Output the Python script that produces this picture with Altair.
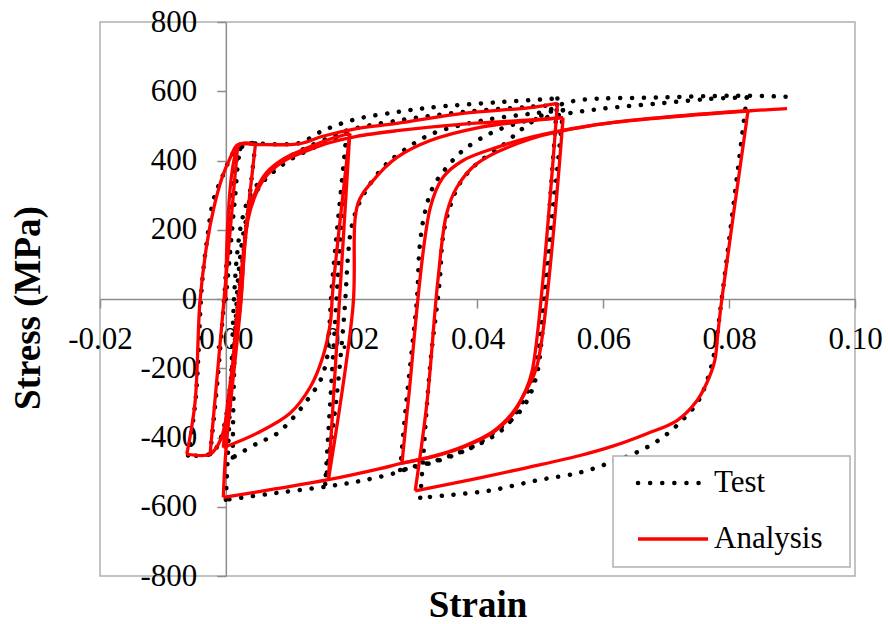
import altair as alt
import pandas as pd

# ---------------- data (strain, stress in MPa) ----------------
X_TICKS = [-0.02, 0.0, 0.02, 0.04, 0.06, 0.08, 0.10]
Y_TICKS = [-800, -600, -400, -200, 0, 200, 400, 600, 800]
SERIES = ["Test", "Analysis"]

# Analysis (red) branches
A1 = [(0, 0), (0.0022, 446), (0.0047, 446)]
A2 = [(0.0047, 446), (0.0020, 0), (0.0005, -290), (-0.0008, -405), (-0.0025, -448), (-0.0062, -448)]
A3 = [(-0.0062, -448), (-0.0049, -300), (-0.0041, -5), (-0.0030, 160), (-0.0019, 264), (-0.0006, 350),
      (0.0007, 408), (0.0019, 446), (0.0047, 446), (0.0118, 449), (0.0154, 470), (0.0208, 492),
      (0.0272, 507), (0.0377, 536), (0.0484, 553), (0.0527, 565)]
A4 = [(-0.0025, -448), (-0.0004, -25), (0.0019, 446)]
A5 = [(0.0527, 565), (0.0487, -207), (0.0475, -270), (0.0455, -335), (0.0425, -385), (0.0377, -428),
      (0.0330, -455), (0.0280, -474), (0.0245, -490), (0.0163, -522), (0.0080, -548), (-0.0004, -573)]
A6 = [(-0.0004, -573), (0.0000, -440), (0.0023, -30), (0.0035, 228), (0.0049, 308), (0.0065, 357),
      (0.0091, 397), (0.0129, 428), (0.0166, 452), (0.0208, 470), (0.0272, 486), (0.0377, 505),
      (0.0484, 517), (0.0536, 524)]
A7 = [(-0.0004, -429), (0.0003, -300), (0.0023, -20), (0.0035, 240), (0.0049, 318), (0.0065, 366),
      (0.0091, 404), (0.0129, 436), (0.0166, 462), (0.0197, 478)]
A8 = [(0.0197, 478), (0.0170, 25), (0.0166, -70), (0.0154, -168), (0.0134, -255), (0.0102, -330),
      (0.0049, -388), (-0.0004, -429)]
A9 = [(0.0197, 478), (0.0163, -522)]
A10 = [(0.0163, -522), (0.0202, -25), (0.0210, 276), (0.0234, 342), (0.0272, 409), (0.0325, 458),
       (0.0404, 496), (0.0470, 512), (0.0536, 524)]
A11 = [(0.0536, 524), (0.0495, -190), (0.0478, -262), (0.0455, -330), (0.0425, -382), (0.0377, -426),
       (0.0330, -454), (0.0280, -474)]
A12 = [(0.0280, -474), (0.0290, -294), (0.0325, 264), (0.0345, 351), (0.0377, 400), (0.0431, 438),
       (0.0484, 467), (0.0579, 501), (0.0690, 524), (0.0830, 544)]
A13 = [(0.0830, 544), (0.0788, -5), (0.0782, -100), (0.0777, -179), (0.0766, -236), (0.0749, -293),
       (0.0717, -351), (0.0669, -389), (0.0615, -425), (0.0563, -452), (0.0484, -485), (0.0400, -518),
       (0.0301, -554)]
A14 = [(0.0301, -554), (0.0320, -294), (0.0337, 53), (0.0351, 247), (0.0367, 322), (0.0399, 391),
       (0.0484, 462), (0.0579, 500), (0.0690, 523), (0.0830, 543), (0.0892, 550)]
ANALYSIS = [A1, A2, A3, A4, A5, A6, A7, A8, A9, A10, A11, A12, A13, A14]

# Test (black dotted) branches
T1 = [(0, 0), (0.0006, 120), (0.0015, 300), (0.0022, 420), (0.0030, 449), (0.0047, 449)]
T2 = [(0.0047, 449), (0.0032, 200), (0.0020, 0), (0.0010, -200), (-0.0003, -370), (-0.0015, -430),
      (-0.0025, -448), (-0.0060, -452)]
T3 = [(-0.0060, -452), (-0.0048, -290), (-0.0038, 40), (-0.0030, 169), (-0.0020, 284), (-0.0006, 351),
      (0.0011, 420), (0.0026, 449), (0.0047, 449), (0.0118, 451), (0.0145, 478), (0.0166, 495),
      (0.0208, 520), (0.0272, 540), (0.0325, 553), (0.0431, 568), (0.0527, 579)]
T4 = [(-0.0025, -448), (-0.0014, -250), (-0.0004, -30), (0.0005, 200), (0.0014, 380), (0.0026, 449)]
T5 = [(0.0527, 579), (0.0510, 150), (0.0499, -120), (0.0488, -230), (0.0466, -315), (0.0441, -375),
      (0.0404, -418), (0.0367, -446), (0.0325, -472), (0.0293, -487), (0.0272, -501), (0.0218, -524),
      (0.0166, -540), (0.0080, -560), (0.0000, -580)]
T6 = [(0.0000, -580), (0.0003, -460), (0.0009, -200), (0.0013, 0), (0.0018, 130), (0.0026, 230),
      (0.0040, 305), (0.0060, 350), (0.0081, 385), (0.0102, 412), (0.0129, 438), (0.0166, 467),
      (0.0193, 487), (0.0272, 515), (0.0377, 540), (0.0484, 555), (0.0536, 562)]
T7 = [(0.0011, -458), (0.0012, -300), (0.0016, -50), (0.0021, 90), (0.0030, 210), (0.0043, 290),
      (0.0060, 340), (0.0081, 375), (0.0102, 402), (0.0129, 428), (0.0166, 458), (0.0192, 478)]
T8 = [(0.0192, 478), (0.0168, 25), (0.0165, -70), (0.0161, -168), (0.0150, -236), (0.0129, -293),
      (0.0107, -343), (0.0081, -389), (0.0049, -418), (0.0011, -458)]
T9 = [(0.0192, 478), (0.0158, -534)]
T10 = [(0.0158, -534), (0.0175, -300), (0.0189, -25), (0.0194, 120), (0.0199, 200), (0.0209, 264),
       (0.0225, 320), (0.0250, 380), (0.0272, 415), (0.0325, 475), (0.0404, 514), (0.0484, 535),
       (0.0536, 545)]
T11 = [(0.0536, 545), (0.0515, 150), (0.0503, -100), (0.0494, -220), (0.0480, -290), (0.0460, -340),
       (0.0436, -372), (0.0399, -420), (0.0367, -448), (0.0325, -474), (0.0293, -489), (0.0277, -494)]
T12 = [(0.0277, -494), (0.0285, -332), (0.0296, -141), (0.0304, 5), (0.0308, 149), (0.0316, 247),
       (0.0329, 322), (0.0351, 380), (0.0377, 429), (0.0420, 478), (0.0468, 510), (0.0510, 525),
       (0.0550, 538), (0.0600, 550), (0.0690, 565), (0.0770, 578), (0.0828, 582)]
T13 = [(0.0828, 582), (0.0786, -30), (0.0777, -150), (0.0765, -235), (0.0749, -300), (0.0717, -365),
       (0.0687, -409), (0.0653, -443), (0.0615, -470), (0.0563, -501), (0.0494, -524), (0.0420, -553),
       (0.0345, -568), (0.0309, -574)]
T14 = [(0.0309, -574), (0.0313, -476), (0.0325, -187), (0.0340, 53), (0.0345, 178), (0.0356, 265),
       (0.0372, 334), (0.0399, 391), (0.0436, 438), (0.0470, 490), (0.0500, 528), (0.0530, 560),
       (0.0560, 574), (0.0600, 579), (0.0690, 582), (0.0770, 586), (0.0830, 587), (0.0892, 584)]
TEST = [T1, T2, T3, T4, T5, T6, T7, T8, T9, T10, T11, T12, T13, T14]

rows = []
for name, branches in (("Test", TEST), ("Analysis", ANALYSIS)):
    for b, pts in enumerate(branches):
        for i, (sx, sy) in enumerate(pts):
            rows.append({"series": name, "branch": f"{name}-{b}", "idx": i,
                         "strain": sx, "stress": sy})
df = pd.DataFrame(rows)

# ---------------- layout ----------------
W, H = 755, 554
FONT = "Liberation Serif"
X0 = W * 0.02 / 0.12          # pixel position of strain = 0
Y0 = H / 2                    # pixel position of stress = 0

x_scale = alt.Scale(domain=[-0.02, 0.10], nice=False, zero=False)
y_scale = alt.Scale(domain=[-800, 800], nice=False, zero=False)

x_axis = alt.Axis(
    values=X_TICKS, offset=-Y0, tickSize=9, labelPadding=16,
    labelFlush=False, labelOverlap=False,
    labelExpr="datum.value < 0 ? '-' + format(abs(datum.value), '.2f') : format(datum.value, '.2f')",
    title="Strain", titleX=W / 2, titleY=H - Y0 + 40, titleAlign="center",
    titleBaseline="alphabetic", titleFontSize=37, titleFontWeight="bold", titleFont=FONT,
    titleColor="black",
)
y_axis = alt.Axis(
    values=Y_TICKS, offset=-X0, tickSize=9, labelPadding=20,
    labelFlush=False, labelOverlap=False,
    labelExpr="datum.value < 0 ? '-' + abs(datum.value) : '' + datum.value",
    title="Stress (MPa)", titleAngle=270, titleX=39 - 100 - X0, titleY=285.5,
    titleAlign="center", titleBaseline="alphabetic", titleFontSize=37,
    titleFontWeight="bold", titleFont=FONT, titleColor="black",
)

base = alt.Chart(df)

test = base.transform_filter(alt.datum.series == "Test").mark_line(
    color="black", strokeWidth=4.5, strokeCap="round", strokeJoin="round",
    strokeDash=[0.1, 11.7], interpolate="catmull-rom",
).encode(
    x=alt.X("strain:Q", scale=x_scale, axis=x_axis),
    y=alt.Y("stress:Q", scale=y_scale, axis=y_axis),
    detail="branch:N",
    order="idx:Q",
)

analysis = base.transform_filter(alt.datum.series == "Analysis").mark_line(
    color="#ff0000", strokeWidth=3.3, strokeJoin="round", interpolate="catmull-rom",
).encode(
    x=alt.X("strain:Q", scale=x_scale),
    y=alt.Y("stress:Q", scale=y_scale),
    detail="branch:N",
    order="idx:Q",
)

# ---------------- legend ----------------
LX, LY, LW, LH = 513, 434, 237, 111
leg_box = alt.Chart(pd.DataFrame({"series": ["box"]})).mark_rect(
    fill="white", stroke="#b0b0b0", strokeWidth=1.5,
).encode(x=alt.value(LX), x2=alt.value(LX + LW), y=alt.value(LY), y2=alt.value(LY + LH))

leg_test_line = alt.Chart(pd.DataFrame({"series": [SERIES[0]]})).mark_rule(
    color="black", strokeWidth=4.5, strokeCap="round", strokeDash=[0.1, 12],
).encode(x=alt.value(LX + 25), x2=alt.value(LX + 88), y=alt.value(LY + 27))

leg_an_line = alt.Chart(pd.DataFrame({"series": [SERIES[1]]})).mark_rule(
    color="#ff0000", strokeWidth=3.5,
).encode(x=alt.value(LX + 25), x2=alt.value(LX + 95), y=alt.value(LY + 83))

leg_test_txt = alt.Chart(pd.DataFrame({"series": [SERIES[0]]})).mark_text(
    align="left", baseline="middle", font=FONT, fontSize=31, color="black",
).encode(x=alt.value(LX + 101), y=alt.value(LY + 27), text="series:N")

leg_an_txt = alt.Chart(pd.DataFrame({"series": [SERIES[1]]})).mark_text(
    align="left", baseline="middle", font=FONT, fontSize=31, color="black",
).encode(x=alt.value(LX + 101), y=alt.value(LY + 83), text="series:N")

chart = alt.layer(
    test, analysis, leg_box, leg_test_line, leg_an_line, leg_test_txt, leg_an_txt
).properties(
    width=W, height=H,
    autosize=alt.AutoSizeParams(type="none"),
    padding={"left": 100, "top": 22, "right": 33, "bottom": 48},
).configure_view(
    stroke="#b0b0b0", strokeWidth=1.5,
).configure_axis(
    grid=False, domainColor="#8c8c8c", domainWidth=1.5, tickColor="#8c8c8c", tickWidth=1.5,
    labelFont=FONT, labelFontSize=31, labelColor="black",
)

chart.save("out.html", embed_options={"renderer": "svg", "actions": False})
